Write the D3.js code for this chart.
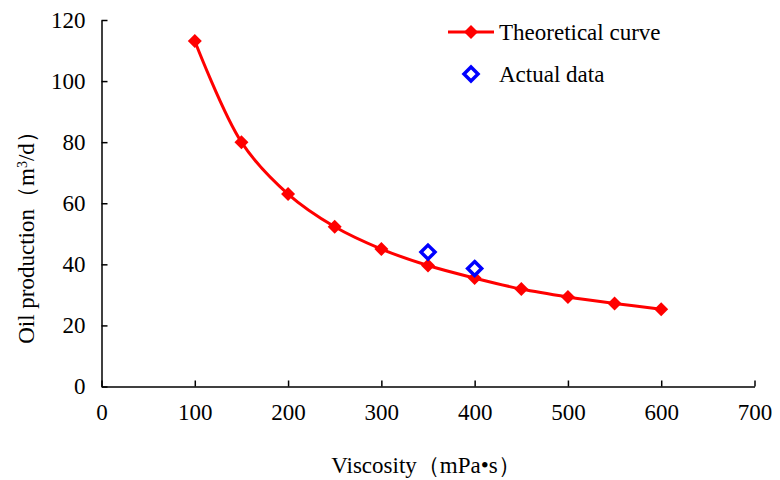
<!DOCTYPE html>
<html><head><meta charset="utf-8">
<script src="https://cdn.jsdelivr.net/npm/d3@7"></script>
<style>body{margin:0;background:#fff}svg{display:block}</style>
</head><body>
<svg id="c" width="780" height="480"></svg>
<script>
const viscosity = [100,150,200,250,300,350,400,450,500,550,600];
const theoretical = [113.1,80.0,63.0,52.3,45.0,39.6,35.5,31.9,29.3,27.2,25.3];
const actualX = [350,400];
const actualY = [44.0,38.6];
const xTicks = [0,100,200,300,400,500,600,700];
const yTicks = [0,20,40,60,80,100,120];
const seriesNames = ["Theoretical curve","Actual data"];

const svg = d3.select("#c");
const font = "'Liberation Serif','Times New Roman',serif";
const fs = 23;
const x = d3.scaleLinear().domain([0,700]).range([101.5,754.5]);
const y = d3.scaleLinear().domain([0,120]).range([386.5,20]);

const xAxis = svg.append("g").attr("transform","translate(0,386.5)")
  .call(d3.axisBottom(x).tickValues(xTicks).tickSizeInner(-6).tickSizeOuter(0).tickPadding(17));
const yAxis = svg.append("g").attr("transform","translate(101.5,0)")
  .call(d3.axisLeft(y).tickValues(yTicks).tickSizeInner(-6).tickSizeOuter(0).tickPadding(16));
[xAxis,yAxis].forEach(a=>{
  a.select(".domain").attr("stroke","#000").attr("stroke-width",1.5);
  a.selectAll(".tick line").attr("stroke","#000").attr("stroke-width",1.5);
  a.selectAll(".tick text").attr("font-family",font).attr("font-size",fs).attr("fill","#000");
});

svg.append("text").attr("x",426).attr("y",473).attr("text-anchor","middle")
  .attr("font-family",font).attr("font-size",fs).text("Viscosity（mPa•s）");
svg.append("text").attr("transform","translate(34,232) rotate(-90)").attr("text-anchor","middle")
  .attr("font-family",font).attr("font-size",fs)
  .html('Oil production（m<tspan baseline-shift="super" font-size="14">3</tspan>/d）');

const pts = viscosity.map((v,i)=>[v,theoretical[i]]);
const line = d3.line().x(d=>x(d[0])).y(d=>y(d[1])).curve(d3.curveCatmullRom.alpha(0.5));
svg.append("path").attr("d",line(pts)).attr("fill","none").attr("stroke","#ff0000").attr("stroke-width",3);

const diamond = (s)=>`M0,${-s}L${s},0L0,${s}L${-s},0Z`;
svg.selectAll(".tm").data(pts).enter().append("path")
  .attr("transform",d=>`translate(${x(d[0])},${y(d[1])})`)
  .attr("d",diamond(7)).attr("fill","#ff0000");
svg.selectAll(".am").data(actualX.map((v,i)=>[v,actualY[i]])).enter().append("path")
  .attr("transform",d=>`translate(${x(d[0])},${y(d[1])})`)
  .attr("d",diamond(7)).attr("fill","#fff").attr("stroke","#0000ff").attr("stroke-width",3.5);

// legend
svg.append("line").attr("x1",448).attr("x2",494).attr("y1",32).attr("y2",32).attr("stroke","#ff0000").attr("stroke-width",3);
svg.append("path").attr("transform","translate(471,32)").attr("d",diamond(7)).attr("fill","#ff0000");
svg.append("path").attr("transform","translate(471,74)").attr("d",diamond(7)).attr("fill","#fff").attr("stroke","#0000ff").attr("stroke-width",3.5);
svg.append("text").attr("x",499).attr("y",40).attr("font-family",font).attr("font-size",fs).text(seriesNames[0]);
svg.append("text").attr("x",499).attr("y",82).attr("font-family",font).attr("font-size",fs).text(seriesNames[1]);
</script>
</body></html>
